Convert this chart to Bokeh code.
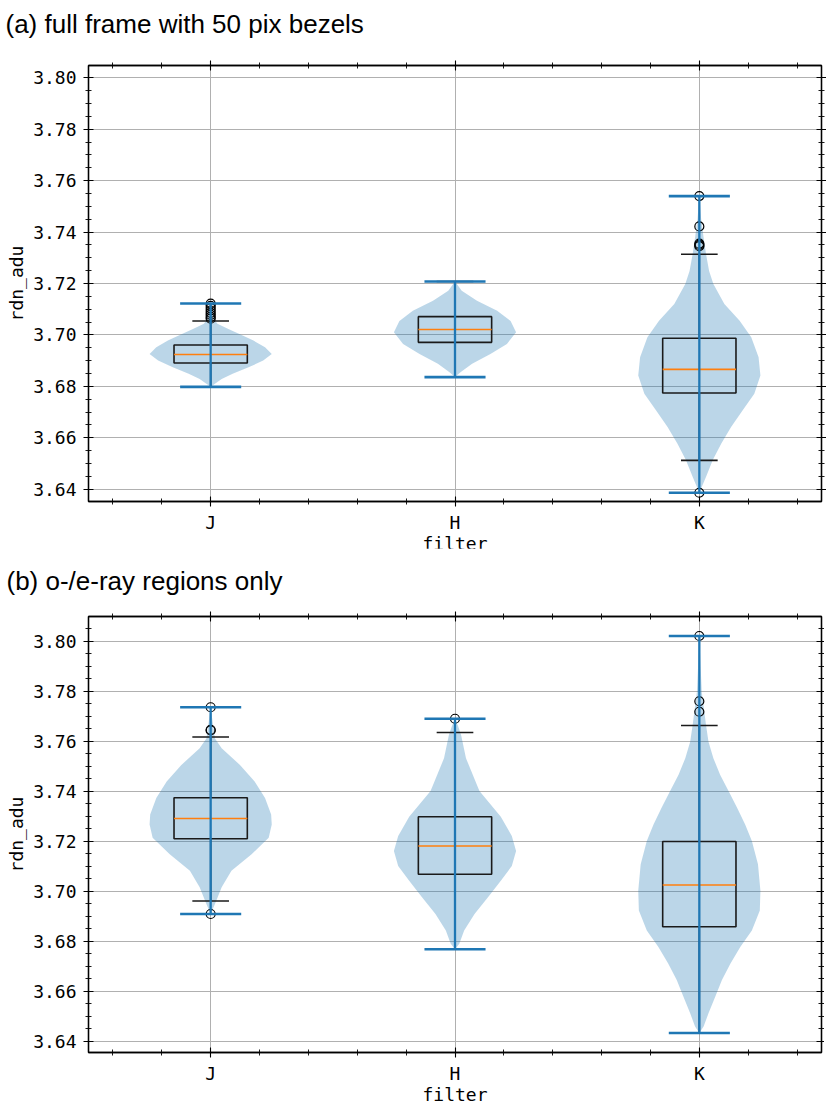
import numpy as np
from bokeh.plotting import figure
from bokeh.models import (Range1d, FixedTicker, SingleIntervalTicker, LinearAxis,
                          PrintfTickFormatter, CustomJSTickFormatter)
from bokeh.layouts import column
from bokeh.embed import file_html
from bokeh.resources import INLINE

# ---------------- data ----------------
filters = ["J", "H", "K"]
positions = [1, 2, 3]
x_minor = [0.6, 0.8, 1.2, 1.4, 1.6, 1.8, 2.2, 2.4, 2.6, 2.8, 3.2, 3.4]

# panel (a): full frame with 50 pix bezels
a_title = "(a) full frame with 50 pix bezels"
a_min = [3.6798, 3.6836, 3.6386]
a_max = [3.7122, 3.7208, 3.7540]
a_q1 = [3.6891, 3.6971, 3.6774]
a_med = [3.6924, 3.7021, 3.6866]
a_q3 = [3.6961, 3.7071, 3.6987]
a_whislo = [3.6798, 3.6836, 3.6512]
a_whishi = [3.7054, 3.7208, 3.7314]
a_fliers_J = [3.7122, 3.7113, 3.7104, 3.7095, 3.7086, 3.7078, 3.7070, 3.7063]
a_fliers_H = []
a_fliers_K = [3.7540, 3.7422, 3.7355, 3.7350, 3.7345, 3.6386]

a_J_y = [3.6798, 3.6810, 3.6829, 3.6849, 3.6874, 3.6900, 3.6926, 3.6952, 3.6978,
         3.7004, 3.7023, 3.7043, 3.7060, 3.7080, 3.7100, 3.7122]
a_J_w = [0.0, 0.07, 0.18, 0.36, 0.62, 0.86, 1.0, 0.89, 0.70,
         0.47, 0.29, 0.11, 0.06, 0.04, 0.03, 0.0]
a_H_y = [3.6836, 3.6855, 3.6888, 3.6926, 3.6965, 3.7010, 3.7054, 3.7094, 3.7133,
         3.7172, 3.7208]
a_H_w = [0.0, 0.09, 0.28, 0.58, 0.85, 1.0, 0.91, 0.69, 0.36, 0.11, 0.0]
a_K_y = [3.6386, 3.6448, 3.6513, 3.6578, 3.6642, 3.6707, 3.6771, 3.6842, 3.6913,
         3.6991, 3.7055, 3.7120, 3.7198, 3.7249, 3.7314, 3.7378, 3.7450, 3.7540]
a_K_w = [0.0, 0.11, 0.22, 0.36, 0.52, 0.71, 0.90, 1.0, 0.97,
         0.85, 0.66, 0.41, 0.23, 0.16, 0.11, 0.07, 0.03, 0.0]

# panel (b): o-/e-ray regions only
b_title = "(b) o-/e-ray regions only"
b_min = [3.6908, 3.6767, 3.6432]
b_max = [3.7735, 3.7689, 3.8020]
b_q1 = [3.7209, 3.7067, 3.6857]
b_med = [3.7290, 3.7180, 3.7024]
b_q3 = [3.7373, 3.7297, 3.7198]
b_whislo = [3.6960, 3.6767, 3.6432]
b_whishi = [3.7616, 3.7634, 3.7662]
b_fliers_J = [3.7735, 3.7645, 3.7642, 3.6908]
b_fliers_H = [3.7689]
b_fliers_K = [3.8020, 3.7759, 3.7717]

b_J_y = [3.6908, 3.6948, 3.7015, 3.7081, 3.7147, 3.7213, 3.7266, 3.7306, 3.7372,
         3.7438, 3.7504, 3.7571, 3.7610, 3.7680, 3.7735]
b_J_w = [0.0, 0.07, 0.18, 0.34, 0.67, 0.95, 1.0, 0.99, 0.89,
         0.72, 0.48, 0.18, 0.07, 0.03, 0.0]
b_H_y = [3.6767, 3.6789, 3.6842, 3.6908, 3.6975, 3.7041, 3.7100, 3.7160, 3.7220,
         3.7297, 3.7400, 3.7531, 3.7624, 3.7660, 3.7689]
b_H_w = [0.0, 0.07, 0.15, 0.32, 0.54, 0.75, 0.93, 1.0, 0.93,
         0.75, 0.40, 0.18, 0.10, 0.05, 0.0]
b_K_y = [3.6432, 3.6458, 3.6511, 3.6577, 3.6644, 3.6710, 3.6776, 3.6842, 3.6922,
         3.7001, 3.7107, 3.7200, 3.7266, 3.7332, 3.7399, 3.7465, 3.7531, 3.7597,
         3.7663, 3.7796, 3.7900, 3.8020]
b_K_w = [0.0, 0.07, 0.15, 0.26, 0.37, 0.51, 0.67, 0.86, 0.99,
         1.0, 0.96, 0.86, 0.75, 0.62, 0.48, 0.34, 0.23, 0.15,
         0.11, 0.04, 0.02, 0.0]

BLUE = "#1f77b4"
ORANGE = "#ff7f0e"
MONO = "DejaVu Sans Mono"


def style_axis(ax, labels=True):
    ax.axis_line_color = "black"
    ax.axis_line_width = 1.3
    ax.major_tick_line_color = "black"
    ax.major_tick_line_width = 1.1
    ax.minor_tick_line_color = "black"
    ax.minor_tick_line_width = 0.9
    ax.major_tick_in = 5
    ax.major_tick_out = 5
    ax.minor_tick_in = 3
    ax.minor_tick_out = 3
    ax.major_label_text_font = MONO
    ax.major_label_text_color = "black"
    if labels:
        ax.major_label_text_font_size = "18px"
        ax.major_label_standoff = 7
    else:
        ax.major_label_text_font_size = "0px"
        ax.major_label_standoff = 0
        ax.formatter = CustomJSTickFormatter(code="return ''")
    ax.axis_label_text_font = MONO
    ax.axis_label_text_font_size = "18px"
    ax.axis_label_text_font_style = "normal"
    ax.axis_label_text_color = "black"


def make_panel(title, yr, fw, fh, bl, bt, title_standoff, title_x, margin,
               mins, maxs, q1, med, q3, wlo, whi, fliers, prof_y, prof_w):
    p = figure(frame_width=fw, frame_height=fh,
               x_range=Range1d(0.5, 3.5), y_range=Range1d(*yr),
               output_backend="svg", toolbar_location=None,
               min_border_left=bl, min_border_top=bt,
               min_border_right=0, min_border_bottom=0, title=title,
               margin=margin)
    p.title.text_font = "Liberation Sans"
    p.title.text_font_size = "26px"
    p.title.text_font_style = "normal"
    p.title.text_color = "black"
    p.title.align = "left"
    p.title.offset = title_x - bl
    p.title.standoff = title_standoff
    p.outline_line_color = "black"
    p.outline_line_width = 1.3
    p.background_fill_color = "white"
    p.border_fill_color = "white"

    xt = FixedTicker(ticks=positions, minor_ticks=x_minor)
    yt = SingleIntervalTicker(interval=0.02, num_minor_ticks=4)

    xa = p.xaxis[0]
    xa.ticker = xt
    xa.major_label_overrides = {1: filters[0], 2: filters[1], 3: filters[2]}
    xa.axis_label = "filter"
    style_axis(xa)
    xa.major_label_standoff = 5
    xa.axis_label_standoff = -3

    ya = p.yaxis[0]
    ya.ticker = yt
    ya.formatter = PrintfTickFormatter(format="%.2f")
    ya.axis_label = "rdn_adu"
    style_axis(ya)
    ya.axis_label_standoff = 3

    top = LinearAxis(ticker=FixedTicker(ticks=positions, minor_ticks=x_minor))
    style_axis(top, labels=False)
    p.add_layout(top, "above")
    right = LinearAxis(ticker=SingleIntervalTicker(interval=0.02, num_minor_ticks=4))
    style_axis(right, labels=False)
    p.add_layout(right, "right")

    p.xgrid.ticker = xt
    p.ygrid.ticker = yt
    for g in (p.xgrid, p.ygrid):
        g.grid_line_color = "#b0b0b0"
        g.grid_line_width = 1.0

    # violin bodies
    for i, pos in enumerate(positions):
        ys = np.array(prof_y[i])
        ws = np.array(prof_w[i]) * 0.25
        px = np.concatenate([pos - ws, (pos + ws)[::-1]])
        py = np.concatenate([ys, ys[::-1]])
        p.patch(px, py, fill_color=BLUE, fill_alpha=0.3, line_color=None)

    pos = np.array(positions, dtype=float)
    # boxes
    p.quad(left=pos - 0.15, right=pos + 0.15, bottom=q1, top=q3,
           fill_color=None, line_color="#1a1a1a", line_width=1.6)
    # whiskers
    p.segment(x0=pos, x1=pos, y0=q3, y1=whi, line_color="black", line_width=1.5)
    p.segment(x0=pos, x1=pos, y0=q1, y1=wlo, line_color="black", line_width=1.5)
    p.segment(x0=pos - 0.075, x1=pos + 0.075, y0=whi, y1=whi, line_color="#1a1a1a", line_width=1.6)
    p.segment(x0=pos - 0.075, x1=pos + 0.075, y0=wlo, y1=wlo, line_color="#1a1a1a", line_width=1.6)
    # medians
    p.segment(x0=pos - 0.15, x1=pos + 0.15, y0=med, y1=med, line_color=ORANGE, line_width=1.6)
    # fliers
    fx, fy = [], []
    for i, fl in enumerate(fliers):
        fx += [positions[i]] * len(fl)
        fy += list(fl)
    p.scatter(fx, fy, marker="circle", size=9, fill_color=None,
              line_color="black", line_width=1.2)
    # violin extrema lines
    p.segment(x0=pos, x1=pos, y0=mins, y1=maxs, line_color=BLUE, line_width=2.3)
    p.segment(x0=pos - 0.125, x1=pos + 0.125, y0=maxs, y1=maxs, line_color=BLUE, line_width=2.6)
    p.segment(x0=pos - 0.125, x1=pos + 0.125, y0=mins, y1=mins, line_color=BLUE, line_width=2.6)
    return p


pa = make_panel(a_title, (3.6352, 3.8048), 733, 436, 88, 0, 43, 5, (-15, 0, 0, 0),
                a_min, a_max, a_q1, a_med, a_q3, a_whislo, a_whishi,
                [a_fliers_J, a_fliers_H, a_fliers_K],
                [a_J_y, a_H_y, a_K_y], [a_J_w, a_H_w, a_K_w])
pb = make_panel(b_title, (3.6354, 3.8098), 733, 436, 86, 0, 31, 4, (-8, 0, 0, 0),
                b_min, b_max, b_q1, b_med, b_q3, b_whislo, b_whishi,
                [b_fliers_J, b_fliers_H, b_fliers_K],
                [b_J_y, b_H_y, b_K_y], [b_J_w, b_H_w, b_K_w])

layout = column(pa, pb, spacing=0)
open("out.html", "w").write(file_html(layout, INLINE))
